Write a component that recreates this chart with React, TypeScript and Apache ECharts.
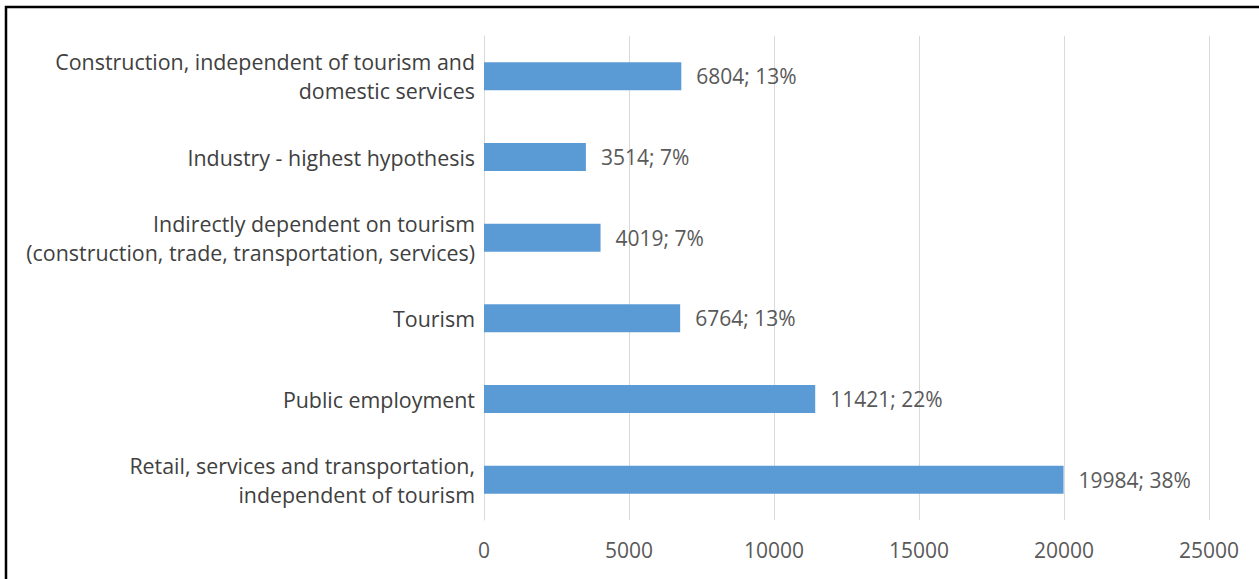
import React, { useEffect, useRef } from "react";
import * as echarts from "echarts";

const categories = [
  "Construction, independent of tourism and\ndomestic services",
  "Industry - highest hypothesis",
  "Indirectly dependent on tourism\n(construction, trade, transportation, services)",
  "Tourism",
  "Public employment",
  "Retail, services and transportation,\nindependent of tourism",
];
const values = [6804, 3514, 4019, 6764, 11421, 19984];
const shares = ["13%", "7%", "7%", "13%", "22%", "38%"];
const xTicks = { min: 0, max: 25000, step: 5000 };

export default function App() {
  const ref = useRef<HTMLDivElement>(null);
  useEffect(() => {
    if (!ref.current) return;
    const chart = echarts.init(ref.current, undefined, { renderer: "svg" });
    chart.setOption({
      animation: false,
      backgroundColor: "#ffffff",
      graphic: [
        {
          type: "rect",
          shape: { x: 6, y: 7, width: 1400, height: 800 },
          style: { fill: "none", stroke: "#000000", lineWidth: 2.5 },
          silent: true,
        },
      ],
      grid: { left: 484, right: 50, top: 36, bottom: 59 },
      xAxis: {
        type: "value",
        min: xTicks.min,
        max: xTicks.max,
        interval: xTicks.step,
        axisLine: { show: false },
        axisTick: { show: false },
        splitLine: { lineStyle: { color: "#d9d9d9", width: 1 } },
        axisLabel: {
          color: "#595959",
          fontFamily: "Open Sans",
          fontSize: 21,
          margin: 19,
          formatter: (v: number) => String(v),
        },
      },
      yAxis: {
        type: "category",
        inverse: true,
        data: categories,
        axisLine: { show: true, lineStyle: { color: "#d9d9d9" } },
        axisTick: { show: false },
        axisLabel: {
          color: "#404040",
          fontFamily: "Open Sans",
          fontSize: 21.4,
          lineHeight: 29,
          margin: 9,
          align: "right",
        },
      },
      series: [
        {
          type: "bar",
          data: values,
          barWidth: 28,
          itemStyle: { color: "#5b9bd5" },
          label: {
            show: true,
            position: "right",
            distance: 15,
            color: "#595959",
            fontFamily: "Open Sans",
            fontSize: 21,
            formatter: (p: any) => `${p.value}; ${shares[p.dataIndex]}`,
          },
        },
      ],
    });
    return () => chart.dispose();
  }, []);
  return (
    <div style={{ position: "fixed", left: 0, top: 0, width: 1259, height: 579, overflow: "hidden" }}>
      <div ref={ref} style={{ width: 1259, height: 579 }} />
    </div>
  );
}
